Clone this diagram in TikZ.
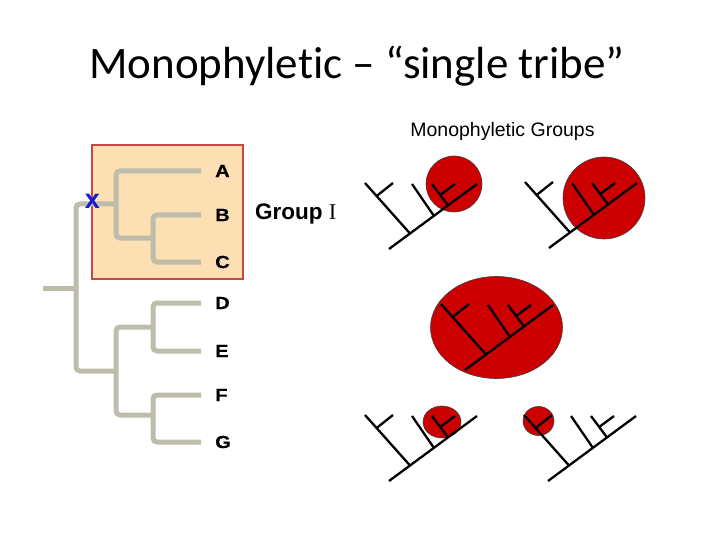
\documentclass[tikz,border=0pt]{standalone}
\usepackage{fontspec}
\usetikzlibrary{positioning}
\newfontfamily\titlefont[Ligatures=NoCommon]{Carlito}
\newfontfamily\arialfont{Liberation Sans}
\newfontfamily\leaffont[FakeStretch=1.15, FakeBold=0.6]{Liberation Sans Bold}
\newfontfamily\timesfont{Liberation Serif}
\definecolor{branchgray}{RGB}{190,188,170}
\definecolor{boxfill}{RGB}{253,223,180}
\definecolor{boxedge}{RGB}{196,72,72}
\definecolor{cladered}{RGB}{204,0,0}
\definecolor{xblue}{RGB}{25,25,205}

\begin{document}
\begin{tikzpicture}[x=1pt, y=-1pt,
    branch/.style={draw=branchgray, line width=5pt, rounded corners=4pt},
    leaf/.style={inner sep=0pt, anchor=west, font=\leaffont\fontsize{17.5}{18}\selectfont},
    clade/.style={fill=cladered, draw=black!75, line width=0.6pt},
    clado/.pic={
        \draw[line width=2.3pt] (0,0) -- (88,-65);
        \draw[line width=2.3pt] (21,-15.5) -- (-24,-66);
        \draw[line width=2.3pt] (-12.4,-53) -- (4,-66);
        \draw[line width=2.3pt] (45,-33) -- (23,-65);
        \draw[line width=2.3pt] (59,-43.5) -- (43,-65);
        \draw[line width=2.3pt] (51.2,-54) -- (66,-65);
    }]
            \useasboundingbox (0,0) rectangle (720,540);
            \node[anchor=base, font=\titlefont\fontsize{45}{50}\selectfont] (title) at (357,79) {Monophyletic – “single tribe”};
            % left tree
            \draw[fill=boxfill, draw=boxedge, line width=1.5pt] (92,145) rectangle (243,279);
            \coordinate (root) at (43,288);
            \coordinate (main) at (76,288);
            \coordinate (abc) at (116,204);
            \coordinate (bc) at (153,238);
            \coordinate (defg) at (116,371);
            \coordinate (de) at (153,327);
            \coordinate (fg) at (153,415);
            \coordinate (tA) at (201,171);
            \coordinate (tB) at (201,215);
            \coordinate (tC) at (201,262);
            \coordinate (tD) at (201,303);
            \coordinate (tE) at (201,351);
            \coordinate (tF) at (201,395);
            \coordinate (tG) at (201,442);
            \path[branch] (root) -- (main);
            \path[branch] (abc) -| (main) |- (defg);
            \path[branch] (tA) -| (abc) |- (bc);
            \path[branch] (tB) -| (bc) |- (tC);
            \path[branch] (de) -| (defg) |- (fg);
            \path[branch] (tD) -| (de) |- (tE);
            \path[branch] (tF) -| (fg) |- (tG);
            \node[leaf, right=14pt of tA] (A) {A};
            \node[leaf, right=14pt of tB] (B) {B};
            \node[leaf, right=14pt of tC] (C) {C};
            \node[leaf, right=14pt of tD] (D) {D};
            \node[leaf, right=14pt of tE] (E) {E};
            \node[leaf, right=14pt of tF] (F) {F};
            \node[leaf, right=14pt of tG] (G) {G};
            \node[text=xblue, font=\arialfont\bfseries\fontsize{27}{27}\selectfont, inner sep=0pt] (x) at (92.5,201) {x};
            \node[anchor=base west, inner sep=0pt, font=\arialfont\bfseries\fontsize{22.5}{23}\selectfont] (group) at (255,220) {Group {\timesfont\mdseries I}};
            % monophyletic groups
            \node[anchor=base, inner sep=0pt, font=\arialfont\fontsize{19.5}{20}\selectfont] (mono) at (502.5,136.5) {Monophyletic Groups};
            \path[clade] (454,184) circle (28pt);
            \path[clade] (604,198) circle (41pt);
            \path[clade] (496.5,327.5) ellipse (66pt and 51pt);
            \path[clade] (442,422) ellipse (19pt and 16pt);
            \path[clade] (538.5,421) ellipse (15.5pt and 14.5pt);
            \pic at (389,249) {clado};
            \pic at (549,248) {clado};
            \pic at (465,370) {clado};
            \pic at (389,481) {clado};
            \pic at (548,481) {clado};
\end{tikzpicture}
\end{document}
